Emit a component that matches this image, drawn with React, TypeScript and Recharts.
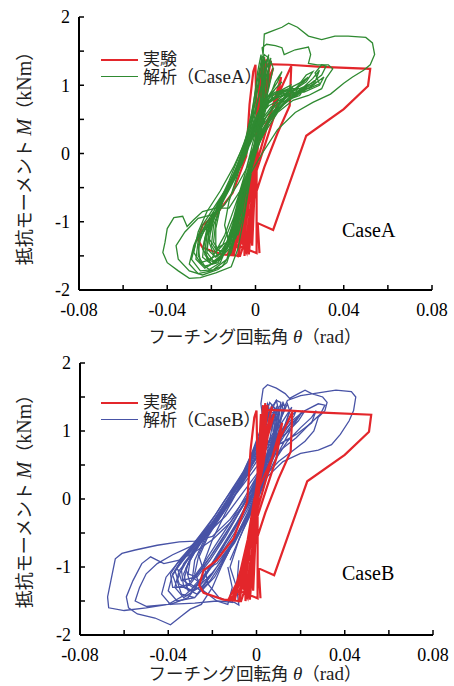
import { LineChart, Line, XAxis, YAxis } from 'recharts';

type Pt = [number, number];

const RED = '#e3262b';
const GREEN = '#2f8a31';
const BLUE = '#4853a6';

const X_TICKS = [-0.08, -0.06, -0.04, -0.02, 0, 0.02, 0.04, 0.06, 0.08];
const X_LABELS = ['-0.08', '-0.04', '0', '0.04', '0.08'];
const Y_TICKS = [-2, -1.5, -1, -0.5, 0, 0.5, 1, 1.5, 2];
const Y_LABELS = ['-2', '-1', '0', '1', '2'];

// 実験 (same test record in both panels)
const expLoop: Pt[] = [
  [0, 0], [0.0015, 0.8], [0.002, 1.25], [0.001, 0.6], [-0.001, -0.3], [-0.002, -1.0], [-0.0015, -1.35], [-0.0005, -0.6],
  [0.001, 0.3], [0.0025, 1.1], [0.003, 1.38], [0.0015, 0.7], [-0.001, -0.4], [-0.003, -1.1], [-0.003, -1.48], [-0.001, -0.7],
  [0.001, 0.2], [0.003, 1.0], [0.004, 1.41], [0.002, 0.8], [-0.002, -0.5], [-0.005, -1.2], [-0.005, -1.5], [-0.002, -0.8],
  [0.0005, 0.0], [0.003, 0.9], [0.005, 1.38], [0.003, 0.7], [-0.002, -0.4], [-0.007, -1.25], [-0.008, -1.52], [-0.004, -0.9],
  [0.0, 0.0], [0.004, 0.8], [0.008, 1.25], [0.006, 1.1], [0.003, 0.5], [-0.004, -0.6], [-0.009, -1.3], [-0.010, -1.5], [-0.006, -1.0],
  [-0.001, 0.0], [0.007, 0.6], [0.0116, 1.12], [0.009, 0.6], [0.004, 0.1], [-0.004, -0.7], [-0.010, -1.35], [-0.011, -1.48], [-0.006, -1.1],
  [-0.002, -0.3], [0.002, 0.5], [0.006, 1.2], [0.007, 1.36], [0.004, 0.9], [0.0, 0.1], [-0.005, -0.9], [-0.008, -1.42], [-0.006, -1.2],
  [-0.003, -0.5], [0.001, 0.4], [0.004, 1.1], [0.005, 1.3], [0.002, 0.6], [-0.003, -0.5], [-0.006, -1.3], [-0.004, -1.45], [-0.001, -0.6],
  [0.0, -0.2], [0.008, 0.7], [0.0162, 1.28], [0.0155, 0.7], [0.010, 0.3], [0.004, -0.2], [-0.002, -0.8], [-0.010, -1.3], [-0.013, -1.5], [-0.008, -1.35],
  [0.0005, -1.46], [0.0005, 0.4], [0.0, 1.3], [-0.001, 1.2], [-0.0027, 0.72], [-0.0042, -0.04], [-0.0104, -0.58], [-0.018, -0.9], [-0.024, -1.05],
  [-0.026, -1.27], [-0.024, -1.38], [-0.015, -1.48], [-0.007, -1.5], [-0.004, -1.2], [0.0, -0.3], [0.003, 0.8], [0.004, 1.31],
  [0.015, 1.3], [0.030, 1.27], [0.052, 1.24], [0.051, 0.99], [0.040, 0.65], [0.023, 0.26], [0.008, -1.12], [0.001, -1.02], [0.0018, -1.46],
];

// 解析 (CaseA)
const caseAInner: Pt[] = [
  [-0.008, -1.2], [-0.005, -0.85], [-0.002, -0.25], [0.002, 0.35], [0.004, 0.9], [0.005, 1.3], [0.004, 1.38], [0.002, 1.1], [-0.001, 0.6],
  [-0.004, 0.15], [-0.008, -0.3], [-0.012, -0.7], [-0.014, -1.05], [-0.012, -1.3], [-0.009, -1.25],
  [-0.006, -0.9], [-0.003, -0.3], [0.001, 0.3], [0.003, 0.8], [0.003, 1.25], [0.0025, 1.45], [0.001, 1.2], [-0.001, 0.7], [-0.004, 0.25],
  [-0.009, -0.25], [-0.014, -0.62], [-0.018, -1.0], [-0.019, -1.3], [-0.016, -1.45], [-0.012, -1.35],
  [-0.007, -0.9], [-0.003, -0.4], [0.001, 0.15], [0.006, 0.5], [0.011, 0.75], [0.015, 0.9], [0.017, 0.98], [0.014, 0.92], [0.008, 0.8],
  [0.003, 0.65], [-0.001, 0.35], [-0.006, -0.1], [-0.011, -0.45], [-0.017, -0.8], [-0.021, -1.15], [-0.022, -1.45], [-0.019, -1.58], [-0.014, -1.45],
  [-0.008, -1.0], [-0.003, -0.35], [0.002, 0.25], [0.007, 0.55], [0.013, 0.8], [0.018, 0.95], [0.022, 1.05], [0.024, 1.12], [0.021, 1.05],
  [0.015, 0.95], [0.008, 0.85], [0.003, 0.6], [-0.002, 0.2], [-0.008, -0.25], [-0.014, -0.6], [-0.020, -0.9], [-0.025, -1.2], [-0.026, -1.5],
  [-0.023, -1.65], [-0.017, -1.6], [-0.012, -1.35],
  [-0.007, -0.85], [-0.002, -0.2], [0.004, 0.35], [0.010, 0.65], [0.016, 0.85], [0.021, 0.95], [0.026, 1.1], [0.029, 1.22], [0.027, 1.05],
  [0.020, 0.95], [0.012, 0.9], [0.005, 0.75], [0.0, 0.45], [-0.004, 0.05], [-0.010, -0.35], [-0.016, -0.7], [-0.022, -1.0], [-0.027, -1.3],
  [-0.029, -1.55], [-0.025, -1.72], [-0.019, -1.7], [-0.013, -1.55],
  [-0.008, -1.05], [-0.004, -0.5], [0.001, 0.1], [0.006, 0.45], [0.012, 0.7], [0.019, 0.9], [0.024, 1.0], [0.030, 1.15], [0.032, 1.28],
  [0.030, 1.3], [0.027, 1.18], [0.029, 1.02], [0.024, 0.95], [0.016, 0.95], [0.009, 0.9], [0.004, 0.8], [0.0, 0.5], [-0.005, 0.0],
  [-0.011, -0.4], [-0.018, -0.75], [-0.024, -1.05], [-0.028, -1.35], [-0.030, -1.62], [-0.026, -1.76], [-0.020, -1.72], [-0.015, -1.65],
  [-0.011, -1.45], [-0.006, -0.8], [-0.002, -0.2], [0.003, 0.4], [0.004, 0.9], [0.005, 1.35], [0.006, 1.45], [0.005, 1.3], [0.002, 0.9],
  [-0.002, 0.4], [-0.007, -0.1], [-0.013, -0.5], [-0.019, -0.85], [-0.023, -1.25], [-0.024, -1.52], [-0.020, -1.62], [-0.015, -1.5],
];

const caseAMid: Pt[] = [
  [-0.010, -1.3], [-0.006, -0.8], [-0.003, -0.3], [0.0, 0.2], [0.004, 0.5], [0.009, 0.7], [0.014, 0.85], [0.019, 0.95], [0.018, 0.88],
  [0.012, 0.8], [0.006, 0.7], [0.002, 0.55], [-0.002, 0.2], [-0.006, -0.15], [-0.010, -0.4], [-0.015, -0.7], [-0.019, -1.05], [-0.020, -1.35],
  [-0.017, -1.5], [-0.013, -1.3], [-0.008, -0.85], [-0.004, -0.35], [0.0, 0.1], [0.003, 0.5], [0.005, 0.95], [0.006, 1.3], [0.007, 1.4],
  [0.005, 1.25], [0.002, 0.9], [-0.001, 0.45], [-0.005, 0.05], [-0.010, -0.35], [-0.015, -0.68], [-0.020, -0.95], [-0.023, -1.3],
  [-0.022, -1.55], [-0.018, -1.6], [-0.012, -1.4], [-0.007, -0.8], [-0.003, -0.25], [0.002, 0.25], [0.008, 0.55], [0.013, 0.72],
  [0.018, 0.85], [0.022, 0.95], [0.020, 0.85], [0.014, 0.78], [0.007, 0.68], [0.002, 0.45], [-0.003, 0.1], [-0.008, -0.25], [-0.013, -0.55],
  [-0.018, -0.85], [-0.022, -1.1], [-0.024, -1.4], [-0.021, -1.55], [-0.015, -1.45], [-0.009, -1.0], [-0.005, -0.5], [-0.001, 0.0],
  [0.003, 0.45], [0.006, 0.8], [0.009, 1.05], [0.012, 1.2], [0.010, 1.05], [0.006, 0.85], [0.002, 0.6], [-0.002, 0.25], [-0.007, -0.15],
  [-0.012, -0.5], [-0.016, -0.8], [-0.018, -1.1], [-0.018, -1.4], [-0.014, -1.45], [-0.010, -1.2], [-0.006, -0.7], [-0.002, -0.15],
  [0.003, 0.35], [0.009, 0.62], [0.015, 0.8], [0.020, 0.92], [0.025, 1.0], [0.028, 1.05], [0.025, 0.97], [0.018, 0.9], [0.010, 0.82],
  [0.004, 0.7], [0.0, 0.4], [-0.004, 0.0], [-0.009, -0.35], [-0.015, -0.72], [-0.021, -1.02], [-0.026, -1.28], [-0.027, -1.55],
  [-0.023, -1.68], [-0.016, -1.55], [-0.010, -1.1], [-0.005, -0.55], [0.0, 0.05], [0.004, 0.55], [0.006, 1.0], [0.006, 1.4], [0.004, 1.45],
  [0.002, 1.2], [0.0, 0.8], [-0.003, 0.35], [-0.007, 0.0], [-0.012, -0.4], [-0.017, -0.75], [-0.021, -1.1], [-0.022, -1.4], [-0.018, -1.52],
  [-0.013, -1.4], [-0.008, -0.95], [-0.004, -0.4], [0.001, 0.2], [0.007, 0.55], [0.014, 0.75], [0.020, 0.88], [0.026, 1.0], [0.031, 1.12],
  [0.029, 1.0], [0.022, 0.9], [0.014, 0.88], [0.007, 0.78], [0.002, 0.55], [-0.002, 0.2],
];

const caseAExtra: Pt[] = [
  [-0.012, -1.45], [-0.008, -1.0], [-0.005, -0.55], [-0.002, -0.05], [0.002, 0.4], [0.005, 0.75], [0.009, 0.95], [0.012, 1.05], [0.010, 0.98],
  [0.006, 0.85], [0.002, 0.65], [-0.002, 0.3], [-0.006, -0.05], [-0.011, -0.42], [-0.016, -0.75], [-0.020, -1.05], [-0.021, -1.3], [-0.019, -1.48],
  [-0.015, -1.35], [-0.010, -0.95], [-0.006, -0.45], [-0.002, 0.05], [0.002, 0.6], [0.004, 1.05], [0.004, 1.4], [0.003, 1.42], [0.001, 1.1],
  [-0.002, 0.55], [-0.005, 0.15], [-0.010, -0.2], [-0.016, -0.55], [-0.022, -0.85], [-0.026, -1.15], [-0.028, -1.45], [-0.025, -1.6], [-0.020, -1.55],
  [-0.014, -1.2], [-0.008, -0.65], [-0.003, -0.1], [0.002, 0.35], [0.008, 0.62], [0.014, 0.82], [0.019, 0.98], [0.023, 1.15], [0.026, 1.2],
  [0.023, 1.05], [0.017, 0.92], [0.010, 0.85], [0.004, 0.72], [0.0, 0.5], [-0.004, 0.1], [-0.009, -0.3], [-0.014, -0.62], [-0.019, -0.92],
  [-0.022, -1.2], [-0.023, -1.48], [-0.020, -1.62], [-0.015, -1.52], [-0.011, -1.2], [-0.007, -0.7], [-0.003, -0.2], [0.001, 0.25],
  [0.005, 0.55], [0.010, 0.78], [0.015, 0.92], [0.016, 1.0], [0.013, 0.95], [0.008, 0.86], [0.003, 0.72], [-0.001, 0.45], [-0.005, 0.1],
  [-0.010, -0.3], [-0.015, -0.65], [-0.019, -0.98], [-0.021, -1.25], [-0.018, -1.4], [-0.013, -1.3], [-0.009, -0.9], [-0.005, -0.4],
  [0.0, 0.15], [0.003, 0.7], [0.005, 1.15], [0.007, 1.35], [0.008, 1.25], [0.006, 0.95], [0.003, 0.65], [-0.001, 0.3], [-0.006, -0.1],
  [-0.011, -0.45], [-0.017, -0.8], [-0.023, -1.1], [-0.026, -1.35], [-0.025, -1.6], [-0.021, -1.7], [-0.016, -1.6], [-0.012, -1.3],
];

const caseAOuter: Pt[] = [
  [-0.004, -0.6], [0.0, 0.1], [0.003, 0.7], [0.004, 1.3], [0.003, 1.55], [0.005, 1.6], [0.009, 1.58], [0.012, 1.55], [0.013, 1.45],
  [0.018, 1.52], [0.024, 1.56], [0.025, 1.45], [0.024, 1.32], [0.028, 1.3], [0.033, 1.3], [0.035, 1.24], [0.032, 1.1], [0.030, 0.95],
  [0.024, 0.85], [0.017, 0.78], [0.010, 0.6], [0.004, 0.3], [-0.002, -0.1], [-0.008, -0.45], [-0.014, -0.75], [-0.020, -0.9],
  [-0.026, -0.95], [-0.032, -1.15], [-0.036, -1.35], [-0.035, -1.55], [-0.030, -1.72], [-0.024, -1.78], [-0.017, -1.7], [-0.013, -1.6],
  [-0.010, -1.3], [-0.006, -0.75], [-0.002, -0.1], [0.002, 0.6], [0.003, 1.2], [0.004, 1.75], [0.008, 1.8], [0.012, 1.85], [0.015, 1.91],
  [0.019, 1.85], [0.024, 1.72], [0.030, 1.67], [0.036, 1.72], [0.042, 1.72], [0.050, 1.7], [0.053, 1.62], [0.054, 1.45], [0.052, 1.3],
  [0.049, 1.22], [0.044, 1.12], [0.040, 1.03], [0.034, 0.87], [0.026, 0.75], [0.018, 0.6], [0.010, 0.35], [0.003, 0.0], [-0.005, -0.45],
  [-0.012, -0.8], [-0.018, -0.8], [-0.024, -0.85], [-0.028, -0.97], [-0.031, -1.07], [-0.033, -0.92], [-0.037, -0.94], [-0.040, -1.1],
  [-0.041, -1.3], [-0.042, -1.45], [-0.040, -1.6], [-0.035, -1.72], [-0.030, -1.83], [-0.025, -1.82], [-0.018, -1.75], [-0.011, -1.66],
  [-0.008, -1.4], [-0.005, -0.9], [-0.002, -0.3],
];

// 解析 (CaseB)
const caseBInner: Pt[] = [
  [-0.012, -0.9], [-0.006, -0.45], [0.0, -0.05], [0.005, 0.35], [0.008, 0.8], [0.007, 1.2], [0.005, 1.4], [0.003, 1.1], [0.0, 0.75],
  [-0.004, 0.45], [-0.010, 0.1], [-0.016, -0.25], [-0.022, -0.55], [-0.026, -0.85], [-0.024, -1.05], [-0.018, -0.95],
  [-0.010, -0.6], [-0.003, -0.2], [0.003, 0.3], [0.007, 0.7], [0.009, 1.1], [0.008, 1.35], [0.006, 1.42], [0.004, 1.2], [0.001, 0.85],
  [-0.003, 0.5], [-0.009, 0.15], [-0.016, -0.2], [-0.023, -0.55], [-0.028, -0.9], [-0.029, -1.15], [-0.025, -1.25], [-0.019, -1.05],
  [-0.012, -0.7], [-0.004, -0.3], [0.003, 0.25], [0.009, 0.7], [0.013, 1.05], [0.015, 1.3], [0.014, 1.4], [0.012, 1.25], [0.008, 1.0],
  [0.003, 0.7], [-0.002, 0.45], [-0.008, 0.15], [-0.015, -0.2], [-0.022, -0.5], [-0.029, -0.8], [-0.033, -1.1], [-0.031, -1.35],
  [-0.025, -1.3], [-0.018, -1.0],
  [-0.010, -0.65], [-0.002, -0.15], [0.005, 0.35], [0.011, 0.75], [0.016, 1.05], [0.020, 1.25], [0.022, 1.3], [0.019, 1.15], [0.013, 0.95],
  [0.006, 0.8], [0.0, 0.55], [-0.006, 0.25], [-0.013, -0.1], [-0.020, -0.45], [-0.027, -0.7], [-0.033, -0.95], [-0.036, -1.2],
  [-0.034, -1.4], [-0.028, -1.45], [-0.021, -1.2],
  [-0.014, -0.85], [-0.006, -0.4], [0.001, 0.1], [0.008, 0.55], [0.014, 0.85], [0.020, 1.05], [0.025, 1.2], [0.027, 1.3], [0.025, 1.12],
  [0.018, 0.95], [0.010, 0.8], [0.003, 0.6], [-0.004, 0.3], [-0.011, 0.0], [-0.018, -0.35], [-0.025, -0.62], [-0.032, -0.85],
  [-0.038, -1.1], [-0.040, -1.35], [-0.036, -1.5], [-0.028, -1.45], [-0.020, -1.1],
  [-0.013, -0.75], [-0.005, -0.3], [0.002, 0.2], [0.006, 0.6], [0.008, 1.0], [0.010, 1.3], [0.009, 1.45], [0.006, 1.3], [0.003, 0.9],
  [-0.002, 0.5], [-0.008, 0.15], [-0.014, -0.2], [-0.020, -0.6], [-0.024, -0.95], [-0.022, -1.25], [-0.017, -1.45], [-0.011, -1.52],
  [-0.009, -1.3], [-0.008, -0.9],
];

const caseBMid: Pt[] = [
  [-0.020, -1.0], [-0.014, -0.65], [-0.007, -0.25], [0.0, 0.2], [0.005, 0.6], [0.008, 1.0], [0.009, 1.3], [0.007, 1.38], [0.004, 1.1],
  [0.0, 0.8], [-0.005, 0.4], [-0.011, 0.05], [-0.018, -0.3], [-0.025, -0.62], [-0.031, -0.95], [-0.033, -1.2], [-0.029, -1.3],
  [-0.022, -1.05], [-0.015, -0.7], [-0.008, -0.3], [-0.001, 0.15], [0.006, 0.55], [0.011, 0.9], [0.014, 1.2], [0.016, 1.35], [0.013, 1.2],
  [0.008, 0.95], [0.002, 0.7], [-0.004, 0.4], [-0.010, 0.05], [-0.017, -0.28], [-0.024, -0.58], [-0.030, -0.85], [-0.035, -1.05],
  [-0.037, -1.3], [-0.033, -1.45], [-0.026, -1.3], [-0.019, -0.9], [-0.012, -0.55], [-0.005, -0.15], [0.002, 0.3], [0.007, 0.75],
  [0.010, 1.15], [0.011, 1.42], [0.009, 1.45], [0.006, 1.25], [0.002, 0.9], [-0.003, 0.55], [-0.009, 0.2], [-0.016, -0.15], [-0.023, -0.48],
  [-0.030, -0.75], [-0.036, -0.95], [-0.041, -1.15], [-0.043, -1.4], [-0.039, -1.55], [-0.031, -1.45], [-0.024, -1.15], [-0.017, -0.78],
  [-0.010, -0.45], [-0.003, -0.05], [0.004, 0.4], [0.010, 0.8], [0.015, 1.05], [0.019, 1.2], [0.021, 1.3], [0.018, 1.18], [0.012, 1.0],
  [0.005, 0.8], [-0.001, 0.55], [-0.007, 0.25], [-0.014, -0.1], [-0.021, -0.42], [-0.028, -0.7], [-0.034, -0.92], [-0.038, -1.12],
  [-0.036, -1.3], [-0.030, -1.25], [-0.023, -0.95], [-0.016, -0.62], [-0.009, -0.25], [-0.002, 0.15], [0.004, 0.55], [0.008, 0.95],
  [0.010, 1.25], [0.009, 1.35], [0.006, 1.1], [0.001, 0.8], [-0.005, 0.45], [-0.012, 0.1], [-0.019, -0.25], [-0.026, -0.55],
  [-0.032, -0.8], [-0.036, -1.0], [-0.034, -1.2], [-0.028, -1.15], [-0.021, -0.85], [-0.014, -0.5], [-0.006, -0.1], [0.001, 0.3],
  [0.005, 0.7], [0.007, 1.05], [0.006, 1.3], [0.004, 1.2], [0.001, 0.95], [-0.003, 0.6], [-0.008, 0.25], [-0.015, -0.1], [-0.021, -0.45],
  [-0.026, -0.8], [-0.028, -1.1], [-0.024, -1.35], [-0.018, -1.5], [-0.013, -1.55], [-0.011, -1.3], [-0.013, -1.0],
];

const caseBExtra: Pt[] = [
  [-0.016, -0.8], [-0.010, -0.5], [-0.004, -0.15], [0.002, 0.25], [0.006, 0.65], [0.008, 1.0], [0.008, 1.25], [0.006, 1.3], [0.003, 1.05],
  [-0.001, 0.75], [-0.006, 0.4], [-0.012, 0.05], [-0.019, -0.3], [-0.026, -0.62], [-0.030, -0.88], [-0.031, -1.1], [-0.027, -1.15],
  [-0.021, -0.9], [-0.014, -0.55], [-0.007, -0.15], [0.0, 0.3], [0.006, 0.75], [0.010, 1.1], [0.013, 1.35], [0.012, 1.42], [0.009, 1.2],
  [0.004, 0.9], [-0.002, 0.6], [-0.008, 0.28], [-0.015, -0.05], [-0.022, -0.4], [-0.029, -0.68], [-0.035, -0.9], [-0.039, -1.1],
  [-0.038, -1.3], [-0.032, -1.3], [-0.025, -1.0], [-0.018, -0.65], [-0.011, -0.3], [-0.004, 0.1], [0.003, 0.5], [0.009, 0.88],
  [0.014, 1.15], [0.018, 1.3], [0.017, 1.22], [0.012, 1.02], [0.006, 0.85], [0.0, 0.62], [-0.006, 0.32], [-0.013, -0.02], [-0.020, -0.35],
  [-0.027, -0.62], [-0.033, -0.86], [-0.037, -1.05], [-0.035, -1.25], [-0.029, -1.35], [-0.023, -1.1], [-0.016, -0.72], [-0.009, -0.35],
  [-0.002, 0.05], [0.004, 0.45], [0.008, 0.85], [0.011, 1.2], [0.012, 1.4], [0.010, 1.35], [0.007, 1.1], [0.003, 0.8], [-0.002, 0.5],
  [-0.008, 0.15], [-0.015, -0.2], [-0.022, -0.5], [-0.028, -0.78], [-0.032, -1.02], [-0.030, -1.25], [-0.025, -1.35], [-0.019, -1.15],
  [-0.013, -0.8], [-0.006, -0.35], [0.001, 0.1], [0.006, 0.5], [0.009, 0.9], [0.010, 1.2], [0.008, 1.3], [0.005, 1.05], [0.001, 0.75],
  [-0.004, 0.42], [-0.010, 0.1], [-0.017, -0.25], [-0.024, -0.55], [-0.030, -0.82], [-0.034, -1.05], [-0.033, -1.3], [-0.027, -1.4],
  [-0.021, -1.2],
];

const caseBOuter: Pt[] = [
  [-0.012, -0.7], [-0.004, -0.25], [0.002, 0.3], [0.004, 0.9], [0.002, 1.4], [0.003, 1.62], [0.005, 1.68], [0.009, 1.63], [0.013, 1.55],
  [0.015, 1.48], [0.019, 1.55], [0.022, 1.6], [0.025, 1.55], [0.030, 1.5], [0.032, 1.42], [0.031, 1.3], [0.028, 1.2], [0.026, 1.0],
  [0.022, 0.85], [0.016, 0.7], [0.010, 0.55], [0.004, 0.35], [-0.004, 0.05], [-0.012, -0.3], [-0.020, -0.55], [-0.028, -0.62],
  [-0.035, -0.63], [-0.045, -0.68], [-0.055, -0.75], [-0.061, -0.8], [-0.064, -0.88], [-0.066, -1.2], [-0.0675, -1.44], [-0.067, -1.6],
  [-0.060, -1.64], [-0.050, -1.6], [-0.040, -1.55], [-0.028, -1.53], [-0.018, -1.5], [-0.010, -1.52], [-0.008, -1.56], [-0.009, -1.3],
  [-0.012, -1.0], [-0.008, -0.6],
  [0.0, 0.0], [0.006, 0.5], [0.010, 1.0], [0.012, 1.3], [0.014, 1.45], [0.020, 1.52], [0.028, 1.56], [0.036, 1.6], [0.043, 1.58],
  [0.045, 1.5], [0.044, 1.3], [0.042, 1.15], [0.038, 0.95], [0.034, 0.8], [0.028, 0.72], [0.020, 0.67], [0.012, 0.55], [0.004, 0.3],
  [-0.004, 0.0], [-0.012, -0.35], [-0.020, -0.6], [-0.028, -0.78], [-0.035, -0.9], [-0.042, -0.95], [-0.048, -0.85], [-0.052, -0.95],
  [-0.056, -1.2], [-0.059, -1.44], [-0.058, -1.6], [-0.054, -1.69], [-0.046, -1.75], [-0.039, -1.85], [-0.034, -1.72], [-0.030, -1.62],
  [-0.025, -1.55], [-0.020, -1.3], [-0.016, -1.0], [-0.010, -0.6],
  [-0.004, -0.2], [0.004, 0.4], [0.010, 0.85], [0.016, 1.15], [0.022, 1.3], [0.028, 1.4], [0.031, 1.38], [0.029, 1.25], [0.024, 1.1],
  [0.018, 0.9], [0.010, 0.7], [0.002, 0.45], [-0.006, 0.1], [-0.014, -0.25], [-0.022, -0.5], [-0.030, -0.7], [-0.038, -0.82],
  [-0.045, -0.95], [-0.050, -1.1], [-0.053, -1.3], [-0.055, -1.5], [-0.050, -1.58], [-0.040, -1.55], [-0.032, -1.4], [-0.025, -1.2],
  [-0.018, -0.9],
];

const SERIF = '"Liberation Serif", "Times New Roman", Times, "DejaVu Serif", "Noto Sans CJK JP", serif';
const tickFont = { fill: '#000', fontSize: 18, fontFamily: SERIF };

const rows = (pts: Pt[]) => pts.map(([x, y]) => ({ x, y }));
const xTickText = (v: number) => {
  const i = X_TICKS.indexOf(v);
  return i % 2 === 0 ? X_LABELS[i / 2] : '';
};
const yTickText = (v: number) => {
  const i = Y_TICKS.indexOf(v);
  return i % 2 === 0 ? Y_LABELS[i / 2] : '';
};

function Panel({ top, margin, sims, simColor, caseName, xLabelY, expOnTop }: {
  top: number;
  margin: { top: number; right: number; left: number; bottom: number };
  sims: Pt[][];
  simColor: string;
  caseName: string;
  xLabelY: number;
  expOnTop: boolean;
}) {
  const axisLine = { stroke: '#000', strokeWidth: 2 };
  const tickLine = { stroke: '#000', strokeWidth: 1.5 };
  const latin = { fontSize: 19 };
  const expLine = (
    <Line key="exp" xAxisId="b" yAxisId="l" data={rows(expLoop)} dataKey="y" type="linear"
      stroke={RED} strokeWidth={2.2} dot={false} isAnimationActive={false} />
  );
  const simLines = sims.map((s, i) => (
    <Line key={`sim-${i}`} xAxisId="b" yAxisId="l" data={rows(s)} dataKey="y" type="linear"
      stroke={simColor} strokeWidth={1.3} dot={false} isAnimationActive={false} />
  ));
  return (
    <div style={{ position: 'absolute', left: 0, top, width: 454, height: 343 }}>
      <LineChart width={454} height={343} margin={margin}>
        <XAxis xAxisId="b" dataKey="x" type="number" orientation="bottom" domain={[-0.08, 0.08]} ticks={X_TICKS}
          tickFormatter={xTickText} tick={tickFont} tickSize={-5} tickMargin={18} height={30}
          axisLine={axisLine} tickLine={tickLine} interval={0} />
        <XAxis xAxisId="t" dataKey="x" type="number" orientation="top" domain={[-0.08, 0.08]} ticks={X_TICKS}
          tickFormatter={() => ''} tickSize={-5} height={0} axisLine={axisLine} tickLine={tickLine} interval={0} />
        <YAxis yAxisId="l" type="number" domain={[-2, 2]} ticks={Y_TICKS} tickFormatter={yTickText}
          tick={tickFont} tickSize={-5} tickMargin={14} width={60} axisLine={axisLine} tickLine={tickLine} interval={0} />
        <YAxis yAxisId="r" orientation="right" type="number" domain={[-2, 2]} ticks={Y_TICKS} tickFormatter={() => ''}
          tickSize={-5} width={0} axisLine={axisLine} tickLine={tickLine} interval={0} />
        {expOnTop ? [...simLines, expLine] : [expLine, ...simLines]}
      </LineChart>

      <div style={{ position: 'absolute', left: 101, top: 51, fontFamily: SERIF, fontSize: 17, color: '#222', lineHeight: '17px' }}>
        <div style={{ display: 'flex', alignItems: 'center', height: 17 }}>
          <span style={{ display: 'inline-block', width: 37, height: 0, borderTop: `2.5px solid ${RED}`, marginRight: 5 }} />
          <span>実験</span>
        </div>
        <div style={{ display: 'flex', alignItems: 'center', height: 17 }}>
          <span style={{ display: 'inline-block', width: 37, height: 0, borderTop: `1.5px solid ${simColor}`, marginRight: 5 }} />
          <span>解析（<span style={{ fontSize: 19 }}>{caseName}</span>）</span>
        </div>
      </div>

      <div style={{ position: 'absolute', left: 342, top: 230, transform: 'translateY(-50%)', fontFamily: SERIF, fontSize: 20, lineHeight: 1, color: '#000' }}>
        {caseName}
      </div>

      <div style={{ position: 'absolute', left: 255, top: xLabelY, transform: 'translate(-50%, -50%)', whiteSpace: 'nowrap',
        fontFamily: SERIF, fontSize: 17.5, lineHeight: 1, color: '#222' }}>
        フーチング回転角 <i style={latin}>θ</i>（<span style={latin}>rad</span>）
      </div>

      <div style={{ position: 'absolute', left: 24, top: 154, transform: 'translate(-50%, -50%) rotate(-90deg)', whiteSpace: 'nowrap',
        fontFamily: SERIF, fontSize: 18, lineHeight: 1, color: '#222' }}>
        抵抗モーメント <i style={{ fontSize: 20 }}>M</i>（<span style={{ fontSize: 20 }}>kNm</span>）
      </div>
    </div>
  );
}

export default function App() {
  return (
    <div style={{ position: 'absolute', left: 0, top: 0, width: 454, height: 686, background: '#fff' }}>
      <Panel top={0} margin={{ top: 17, right: 22, left: 19, bottom: 23 }} sims={[caseAInner, caseAMid, caseAExtra, caseAOuter]}
        simColor={GREEN} caseName="CaseA" xLabelY={337} expOnTop={false} />
      <Panel top={343} margin={{ top: 20, right: 21, left: 20, bottom: 21 }} sims={[caseBInner, caseBMid, caseBExtra, caseBOuter]}
        simColor={BLUE} caseName="CaseB" xLabelY={331} expOnTop={true} />
    </div>
  );
}
